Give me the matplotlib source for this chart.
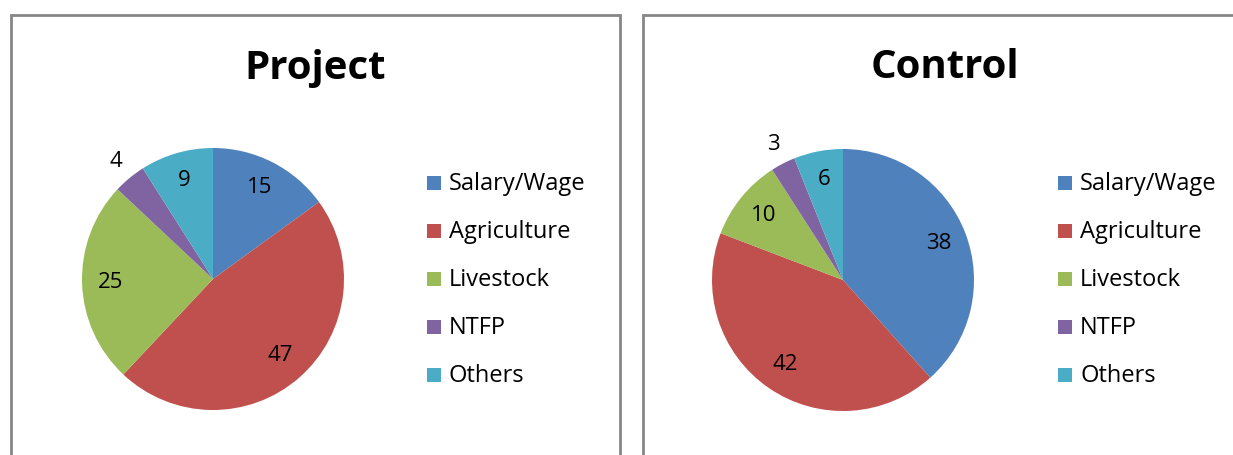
import numpy as np
import matplotlib
matplotlib.use("Agg")
import matplotlib.pyplot as plt
from matplotlib.patches import Rectangle

categories = ["Salary/Wage", "Agriculture", "Livestock", "NTFP", "Others"]
project_values = [15, 47, 25, 4, 9]
control_values = [38, 42, 10, 3, 6]
titles = ["Project", "Control"]
colors = ["#4F81BD", "#C0504D", "#9BBB59", "#8064A2", "#4BACC6"]

W, H = 1233, 455
fig = plt.figure(figsize=(W / 100, H / 100), dpi=100)
plt.rcParams['font.family'] = ['Open Sans', 'DejaVu Sans']

def px_rect(x0, y0, w, h):
    return [x0 / W, 1 - (y0 + h) / H, w / W, h / H]

# panel borders
for (x0, x1) in [(10.5, 619.5), (643, 1260)]:
    fig.patches.append(Rectangle((x0 / W, -0.05), (x1 - x0) / W, 1.05 - 15 / H,
                                 transform=fig.transFigure, fill=False,
                                 edgecolor="#868686", linewidth=2, clip_on=False))

panels = [
    dict(vals=project_values, title=titles[0], cx=213, cy=279, tx=315, leg_x=427),
    dict(vals=control_values, title=titles[1], cx=843, cy=280, tx=945, leg_x=1058),
]
R = 131
for p in panels:
    ax = fig.add_axes(px_rect(p["cx"] - R, p["cy"] - R, 2 * R, 2 * R))
    wedges, _ = ax.pie(p["vals"], colors=colors, startangle=90, counterclock=False,
                       radius=1, wedgeprops=dict(linewidth=0))
    ax.set_xlim(-1, 1)
    ax.set_ylim(-1, 1)
    ax.set_aspect("equal")
    ax.axis("off")
    total = sum(p["vals"])
    for w, v in zip(wedges, p["vals"]):
        ang = np.deg2rad((w.theta1 + w.theta2) / 2)
        d = 0.78 if v / total > 0.05 else 1.16
        ax.text(d * np.cos(ang), d * np.sin(ang), str(v), ha="center", va="center",
                fontsize=16, color="black", clip_on=False)
    fig.text(p["tx"] / W, 1 - 68 / H, p["title"], ha="center", va="center",
             fontsize=29, fontweight="bold")
    for i, (c, lab) in enumerate(zip(colors, categories)):
        yc = 183 + 48 * i
        fig.patches.append(Rectangle((p["leg_x"] / W, 1 - (yc + 7) / H), 14 / W, 14 / H,
                                     transform=fig.transFigure, facecolor=c, edgecolor="none"))
        fig.text((p["leg_x"] + 22) / W, 1 - (yc + 1) / H, lab, ha="left", va="center",
                 fontsize=17)

fig.savefig("out.png", dpi=100, facecolor="white")
